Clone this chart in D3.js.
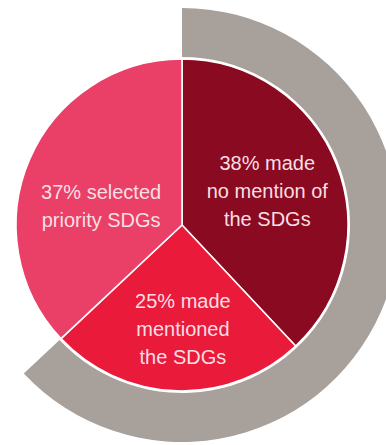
<!DOCTYPE html>
<html>
<head>
<meta charset="utf-8">
<script src="https://cdn.jsdelivr.net/npm/d3@7"></script>
<style>
  html, body { margin: 0; padding: 0; background: #ffffff; }
  svg { display: block; }
</style>
</head>
<body>
<div id="chart"></div>
<script>
// Share of reports by how they treat the SDGs
const categories = ["No mention", "Mentioned", "Selected priority"];
const shares = [38, 25, 37];
const labelLines = [
  ["38% made", "no mention of", "the SDGs"],
  ["25% made", "mentioned", "the SDGs"],
  ["37% selected", "priority SDGs"]
];
const sliceColors = ["#8a0a22", "#ea1a3b", "#ea4067"];
// Outer band groups the reports that did not pick priority SDGs
const bandGroups = ["No mention", "Mentioned"];

const width = 386, height = 445;
const cx = 182, cy = 225;
const pieR = 166, bandInner = 168, bandOuter = 217;
const lineH = 28, capH = 14;
// label anchors in polar form (degrees clockwise from 12 o'clock, radius)
const labelAnchor = [
  { a: 68, r: 92 },
  { a: 179.5, r: 104.5 },
  { a: 283, r: 83 }
];

const svg = d3.select("#chart").append("svg")
  .attr("width", width).attr("height", height);

const g = svg.append("g").attr("transform", `translate(${cx},${cy})`);

const pie = d3.pie().sort(null).value(d => d.value);
const arcs = pie(categories.map((c, i) => ({ name: c, value: shares[i] })));

// outer grey band spanning the grouped slices
const total = d3.sum(shares);
const bandShare = d3.sum(categories.map((c, i) => bandGroups.includes(c) ? shares[i] : 0));
const angle = d3.scaleLinear().domain([0, total]).range([0, 2 * Math.PI]);
g.append("path")
  .attr("d", d3.arc()({
    innerRadius: bandInner, outerRadius: bandOuter,
    startAngle: angle(0), endAngle: angle(bandShare)
  }))
  .attr("fill", "#a8a09a");

const arc = d3.arc().innerRadius(0).outerRadius(pieR);
g.selectAll("path.slice").data(arcs).join("path")
  .attr("class", "slice")
  .attr("d", arc)
  .attr("fill", (d, i) => sliceColors[i])
  .attr("stroke", "#ffffff")
  .attr("stroke-width", 1.6)
  .attr("stroke-linejoin", "round");

// slice labels
arcs.forEach((d, i) => {
  const p = labelAnchor[i];
  const rad = p.a * Math.PI / 180;
  const x = p.r * Math.sin(rad), y = -p.r * Math.cos(rad);
  const lines = labelLines[i];
  const first = y - (lines.length - 1) * lineH / 2 + capH / 2;
  const t = g.append("text")
    .attr("text-anchor", "middle")
    .attr("font-family", "'Liberation Sans', Arial, sans-serif")
    .attr("font-size", 20)
    .attr("fill", "#f8dfe2");
  lines.forEach((s, k) => {
    t.append("tspan").attr("x", x).attr("y", first + k * lineH).text(s);
  });
});
</script>
</body>
</html>
